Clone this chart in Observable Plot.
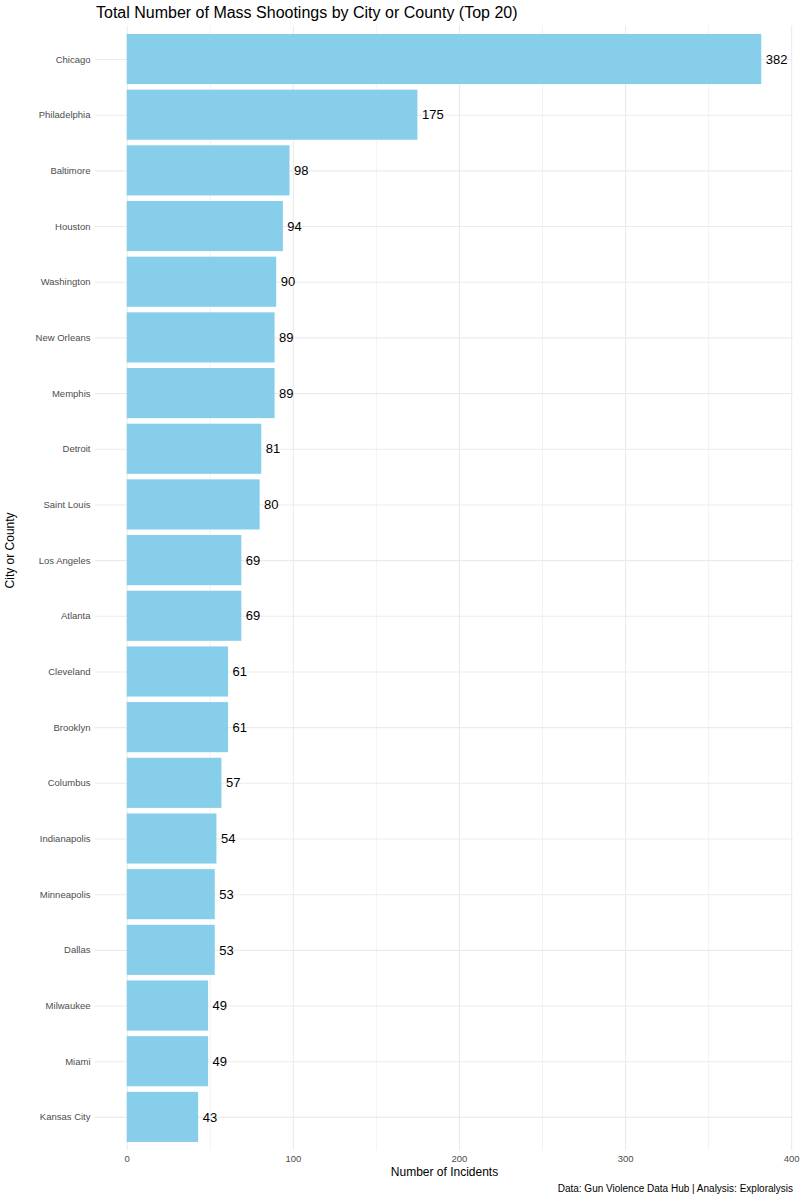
<!DOCTYPE html>
<html>
<head>
<meta charset="utf-8">
<script src="https://cdn.jsdelivr.net/npm/d3@7"></script>
<script src="https://cdn.jsdelivr.net/npm/@observablehq/plot@0.6"></script>
<style>
  body { margin: 0; background: #fff; font-family: "Liberation Sans", Arial, sans-serif; }
  #title { height: 25px; line-height: 25px; padding-left: 96px; font-size: 16px; color: #000; box-sizing: border-box; }
  #chart svg { display: block; }
  #caption { width: 793px; text-align: right; font-size: 10px; line-height: 12px; color: #000; }
</style>
</head>
<body>
<div id="title">Total Number of Mass Shootings by City or County (Top 20)</div>
<div id="chart"></div>
<div id="caption">Data: Gun Violence Data Hub | Analysis: Exploralysis</div>
<script>
const cities = ["Chicago","Philadelphia","Baltimore","Houston","Washington","New Orleans","Memphis","Detroit","Saint Louis","Los Angeles","Atlanta","Cleveland","Brooklyn","Columbus","Indianapolis","Minneapolis","Dallas","Milwaukee","Miami","Kansas City"];
const incidents = [382,175,98,94,90,89,89,81,80,69,69,61,61,57,54,53,53,49,49,43];
const majorTicks = [0,100,200,300,400];
const minorTicks = [50,150,250,350];

const data = cities.map((c, i) => ({city: c, n: incidents[i]}));

const chart = Plot.plot({
  width: 800,
  height: 1158,
  marginTop: 0.6,
  marginBottom: 32.7,
  marginLeft: 95,
  marginRight: 7,
  style: {fontFamily: "Liberation Sans, Arial, sans-serif", background: "#fff"},
  x: {domain: [-19.1, 401.1], ticks: majorTicks, tickSize: 0, tickPadding: 5, label: null},
  y: {domain: cities, padding: 0.1, paddingOuter: 0.15, round: false, tickSize: 0, tickPadding: 4, label: null},
  marks: [
    Plot.ruleX(minorTicks, {stroke: "#ebebeb", strokeWidth: 0.6}),
    Plot.ruleX(majorTicks, {stroke: "#ebebeb", strokeWidth: 1.1}),
    Plot.ruleY(cities, {y: d => d, stroke: "#ebebeb", strokeWidth: 1.1}),
    Plot.barX(data, {x: "n", y: "city", fill: "#87CEEB"}),
    Plot.text(data, {x: "n", y: "city", text: d => String(d.n), textAnchor: "start", dx: 4, fontSize: 13, fill: "#000"}),
    Plot.axisX({ticks: majorTicks, tickSize: 0, tickPadding: 4, fontSize: 9.5, color: "#4d4d4d", label: null}),
    Plot.axisY({tickSize: 0, tickPadding: 5, fontSize: 9.5, color: "#4d4d4d", label: null}),
    Plot.text(["Number of Incidents"], {frameAnchor: "bottom", dy: 25, fontSize: 12, fill: "#000"}),
    Plot.text(["City or County"], {frameAnchor: "left", dx: -85, rotate: -90, fontSize: 12, fill: "#000"})
  ]
});
document.getElementById("chart").appendChild(chart);
</script>
</body>
</html>
